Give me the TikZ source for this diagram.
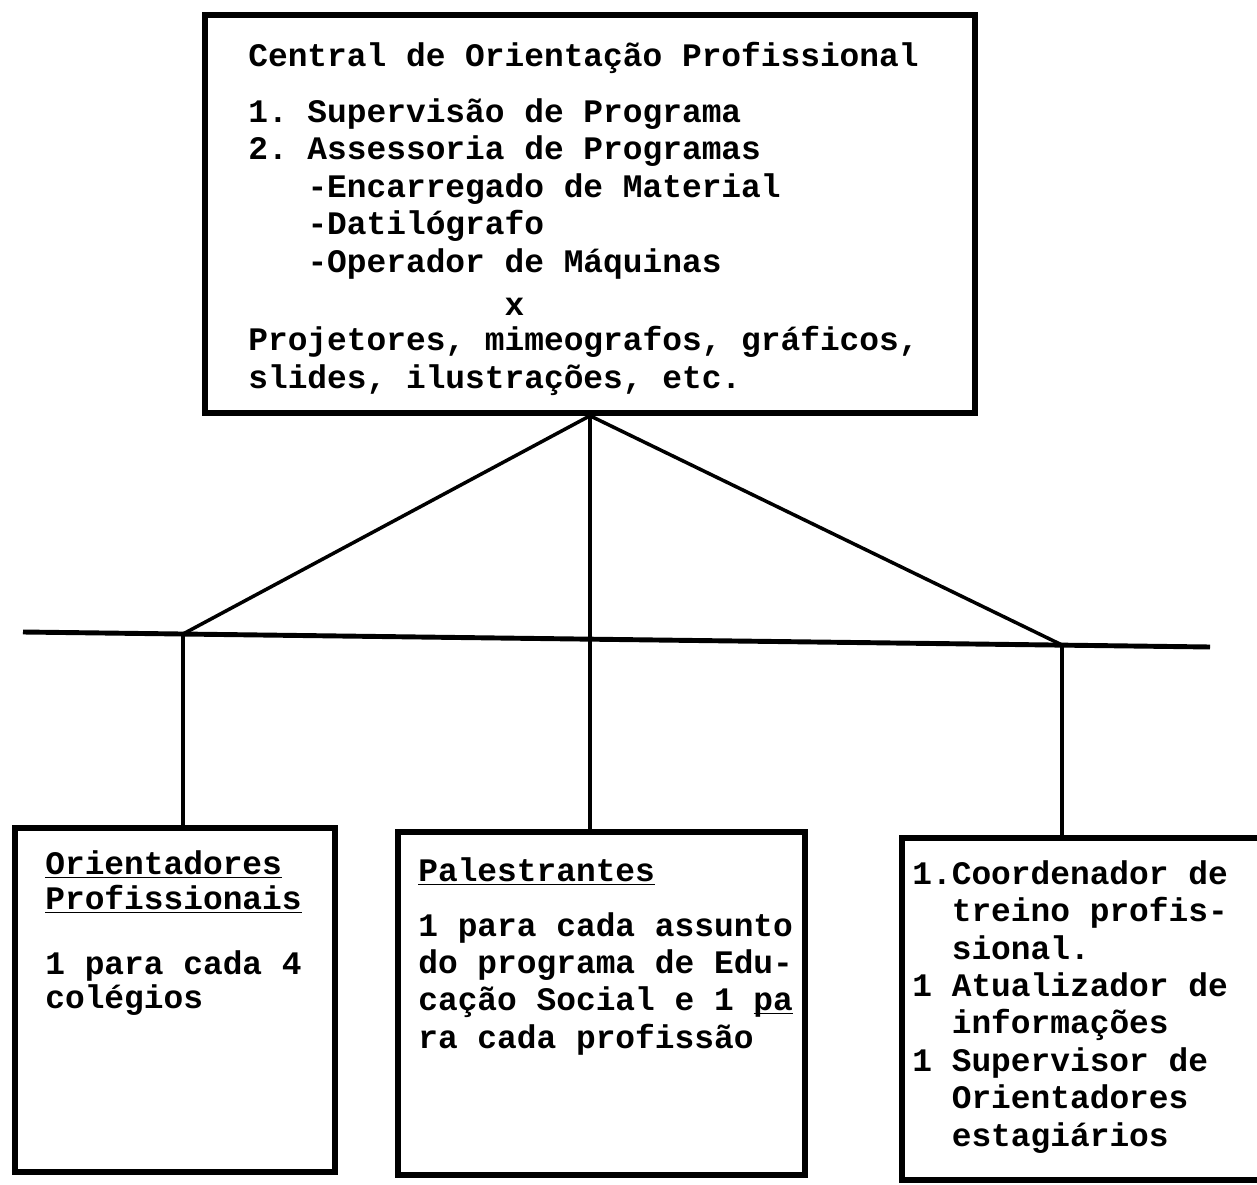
\documentclass[tikz,border=0pt]{standalone}
\usepackage{fontspec}
\setmonofont{Liberation Mono}
\usetikzlibrary{positioning}

\tikzset{
  box/.style={draw, line width=3.2pt, inner sep=0pt},
  txt/.style={anchor=north west, align=left, inner sep=0pt,
    font=\ttfamily\bfseries\fontsize{18.7}{21.3}\selectfont},
  link/.style={line width=2pt},
  bar/.style={line width=2.8pt}
}

\begin{document}
\begin{tikzpicture}[x=0.02cm, y=-0.02cm]
  \useasboundingbox (0,0) rectangle (1257,1185);

  % Top box: Central de Orientacao
  \node[box, minimum width=15.4cm, minimum height=7.96cm] (central) at (590,214) {};
  \node[txt] (centraltxt) at (248,42) {Central de Orientação Profissional\\[0.37cm]
    1. Supervisão de Programa\\
    2. Assessoria de Programas\\
    \phantom{000}-Encarregado de Material\\
    \phantom{000}-Datilógrafo\\
    \phantom{000}-Operador de Máquinas\\[0.12cm]
    \phantom{0000000000000}x\\[-0.05cm]
    Projetores, mimeografos, gráficos,\\
    slides, ilustrações, etc.};

  % Horizontal bar (slightly tilted as in the sheet)
  \coordinate (barW) at (23,632);
  \coordinate (barE) at (1210,647);
  \coordinate (jl) at (183,634);
  \coordinate (jr) at (1062,645);
  \draw[bar] (barW) -- (barE);

  % Bottom boxes (the right one runs off the sheet)
  \node[box, minimum width=6.4cm, minimum height=6.88cm] (orient) at (175,1000) {};
  \node[box, minimum width=8.14cm, minimum height=6.86cm] (palest) at (601.5,1003.5) {};
  \node[box, minimum width=8cm, minimum height=6.84cm] (coord) at (1102,1009) {};

  \node[txt] (orienttxt) at (45,850) {\underline{Orientadores}\\[-0.05cm]
    \underline{Profissionais}\\[0.55cm]
    1 para cada 4\\[-0.05cm]
    colégios};
  \node[txt] (palesttxt) at (418,857) {\underline{Palestrantes}\\[0.35cm]
    1 para cada assunto\\
    do programa de Edu-\\
    cação Social e 1 \underline{\smash{pa}}\\
    ra cada profissão};
  \node[txt] (coordtxt) at (912,860) {1.Coordenador de\\
    \phantom{00}treino profis-\\
    \phantom{00}sional.\\
    1 Atualizador de\\
    \phantom{00}informações\\
    1 Supervisor de\\
    \phantom{00}Orientadores\\
    \phantom{00}estagiários};

  % Connectors
  \draw[link] (central.south) -- (jl);
  \draw[link] (central.south) -- (jr);
  \draw[link] (central.south) -- (central.south |- palest.north);
  \draw[link] (jl) -- (jl |- orient.north);
  \draw[link] (jr) -- (jr |- coord.north);
\end{tikzpicture}
\end{document}
